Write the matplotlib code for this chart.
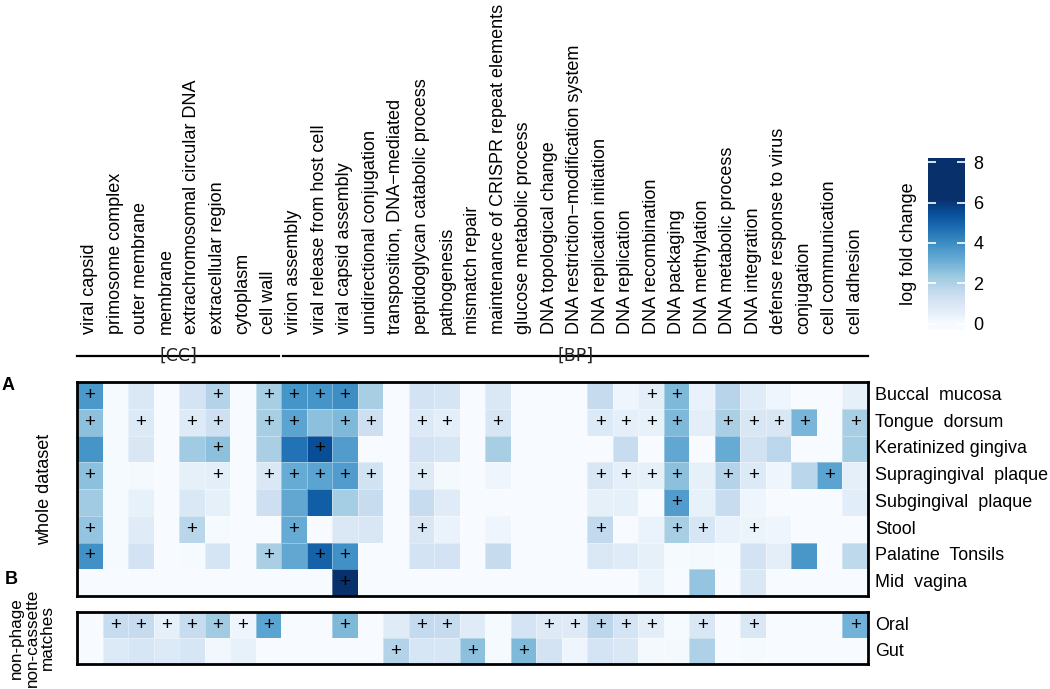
import numpy as np
import matplotlib
matplotlib.use("Agg")
import matplotlib.pyplot as plt
from matplotlib.colors import ListedColormap, Normalize
from matplotlib.cm import ScalarMappable
from matplotlib.transforms import blended_transform_factory
from matplotlib.lines import Line2D

plt.rcParams['font.family'] = ['Liberation Sans', 'DejaVu Sans']

# ---------------- data ----------------
terms = ["viral capsid", "primosome complex", "outer membrane", "membrane",
         "extrachromosomal circular DNA", "extracellular region", "cytoplasm", "cell wall",
         "virion assembly", "viral release from host cell", "viral capsid assembly",
         "unidirectional conjugation", "transposition, DNA\u2212mediated",
         "peptidoglycan catabolic process", "pathogenesis", "mismatch repair",
         "maintenance of CRISPR repeat elements", "glucose metabolic process",
         "DNA topological change", "DNA restriction\u2212modification system",
         "DNA replication initiation", "DNA replication", "DNA recombination",
         "DNA packaging", "DNA methylation", "DNA metabolic process", "DNA integration",
         "defense response to virus", "conjugation", "cell communication", "cell adhesion"]
n_cc = 8  # first 8 terms are [CC], remaining are [BP]

sites = ["Buccal  mucosa", "Tongue  dorsum", "Keratinized gingiva", "Supragingival  plaque",
         "Subgingival  plaque", "Stool", "Palatine  Tonsils", "Mid  vagina"]
groups = ["Oral", "Gut"]

buccal = [3.7, 0.05, 0.9, 0.03, 1.1, 1.9, 0.03, 2.15, 3.8, 3.8, 3.95, 2.15, 0, 1.15, 1.05, 0,
          0.9, 0, 0, 0, 1.55, 0.3, 0.65, 2.8, 0.45, 1.85, 0.75, 0.3, 0, 0, 0.55]
tongue = [2.6, 0.05, 0.85, 0.03, 0.8, 1.3, 0.03, 2.15, 3.4, 2.6, 2.8, 1.35, 0, 0.85, 0.65, 0,
          1.0, 0, 0, 0, 0.85, 0.6, 0.5, 2.8, 0.65, 2.1, 0.95, 0.95, 2.9, 0, 2.15]
keratinized = [3.8, 0.05, 0.95, 0.03, 2.3, 2.6, 0.03, 2.1, 4.6, 5.5, 3.6, 0, 0, 1.15, 1.0, 0,
               2.15, 0, 0, 0, 0, 1.5, 0, 3.3, 0, 3.2, 1.2, 1.75, 0, 0, 2.2]
supragingival = [2.6, 0.05, 0.1, 0.03, 0.55, 0.65, 0.03, 0.9, 3.2, 3.4, 3.6, 1.2, 0, 0.8, 0.1, 0,
                 0.3, 0, 0, 0, 0.95, 0.6, 0.55, 2.6, 0.55, 1.9, 0.85, 0.3, 1.8, 3.4, 0.6]
subgingival = [2.3, 0.05, 0.5, 0.03, 0.9, 0.55, 0.03, 1.35, 3.3, 5.1, 2.2, 1.5, 0, 1.5, 0.75, 0,
               0, 0, 0, 0, 0.55, 0.55, 0, 3.6, 0.5, 1.5, 0.3, 0, 0, 0, 0.7]
stool = [2.5, 0.05, 0.75, 0.03, 1.8, 0.05, 0.03, 0.02, 3.2, -0.25, 0.9, 0.95, 0, 0.95, 0.4, 0,
         0.3, 0, 0, 0, 1.65, 0, 0.4, 2.15, 1.0, 0.45, 0.35, 0.3, 0, 0, 0]
palatine = [3.9, 0.05, 1.15, 0.03, 0.05, 1.05, 0.03, 2.1, 3.3, 5.0, 3.9, 0, 0, 1.15, 1.15, 0,
            1.55, 0, 0, 0, 0.9, 0.75, 0.55, 0.05, 0.1, 0.05, 1.15, 0.65, 3.75, 0, 1.7]
mid_vagina = [0, 0, 0, 0, 0, 0, 0, 0, 0, 0, 8.1, 0, 0, 0, 0, 0,
              0, 0, 0, 0, 0, 0, 0.35, 0, 2.5, 0, 0.9, 0, 0, 0, 0]

oral = [0, 1.5, 1.55, 0.55, 1.5, 2.3, 0.3, 3.4, 0, 0, 2.8, 0, 0.75, 1.6, 1.55, 0.75,
        0.05, 1.1, 0.8, 0.8, 1.75, 1.1, 0.65, 0.05, 0.95, 0, 0.9, 0, 0, 0, 3.0]
gut = [0, 0.85, 1.0, 0.85, 1.0, 0.2, 0.5, 0, 0, 0, 0, 0, 1.9, 1.0, 1.0, 2.6,
       0.05, 2.8, 1.15, 0.3, 1.1, 0.9, 0.1, 0.1, 2.0, 0, 0.05, 0, 0, 0, 0]

# columns marked with "+"
sig_buccal = [0, 5, 7, 8, 9, 10, 22, 23]
sig_tongue = [0, 2, 4, 5, 7, 8, 10, 11, 13, 14, 16, 20, 21, 22, 23, 25, 26, 27, 28, 30]
sig_keratinized = [5, 9]
sig_supragingival = [0, 5, 7, 8, 9, 10, 11, 13, 20, 21, 22, 23, 25, 26, 29]
sig_subgingival = [23]
sig_stool = [0, 4, 8, 13, 20, 23, 24, 26]
sig_palatine = [0, 7, 9, 10]
sig_mid_vagina = [10]
sig_oral = [1, 2, 3, 4, 5, 6, 7, 10, 13, 14, 18, 19, 20, 21, 22, 24, 26, 30]
sig_gut = [12, 15, 17]

cbar_ticks = [0, 2, 4, 6, 8]
vmin, vmax = -0.3, 8.2

# ---------------- figure ----------------
W, H = 1050, 689
fig = plt.figure(figsize=(W / 100, H / 100), dpi=100)


def rect(x0, y0, x1, y1):
    return [x0 / W, 1 - y1 / H, (x1 - x0) / W, (y1 - y0) / H]


base = plt.get_cmap('Blues')
vals = np.linspace(vmin, vmax, 512)
cmap = ListedColormap(base(np.clip(vals / 6.2, 0, 1)))
norm = Normalize(vmin=vmin, vmax=vmax)

matA = np.array([buccal, tongue, keratinized, supragingival, subgingival, stool, palatine, mid_vagina])
sigA = [sig_buccal, sig_tongue, sig_keratinized, sig_supragingival, sig_subgingival,
        sig_stool, sig_palatine, sig_mid_vagina]
matB = np.array([oral, gut])
sigB = [sig_oral, sig_gut]

axA = fig.add_axes(rect(77, 382, 868, 596))
axB = fig.add_axes(rect(77, 612, 868, 664))

for ax, mat, sig, labels in [(axA, matA, sigA, sites), (axB, matB, sigB, groups)]:
    nr, nc = mat.shape
    ax.pcolormesh(np.arange(nc + 1), np.arange(nr + 1), mat, cmap=cmap, norm=norm,
                  edgecolors=(1, 1, 1, 0.35), linewidth=0.5)
    ax.set_xlim(0, nc)
    ax.set_ylim(nr, 0)
    ax.set_xticks([])
    ax.set_yticks([])
    for s in ax.spines.values():
        s.set_linewidth(2)
        s.set_color('black')
    for i, cols in enumerate(sig):
        for j in cols:
            ax.text(j + 0.5, i + 0.5, '+', ha='center', va='center', fontsize=13.5, color='black')
    tr = blended_transform_factory(ax.transAxes, ax.transData)
    for i, lab in enumerate(labels):
        ax.text(1.009, i + 0.5, lab, transform=tr, ha='left', va='center', fontsize=12.9)

# column labels
trx = blended_transform_factory(axA.transData, fig.transFigure)
for j, t in enumerate(terms):
    axA.text(j + 0.5, 1 - 334 / H, t, transform=trx, rotation=90, ha='center', va='bottom',
             fontsize=13, clip_on=False)

# group lines
yline = 1 - 356 / H
for x0, x1, lab in [(0.0, n_cc - 0.08, '[CC]'), (n_cc + 0.08, len(terms), '[BP]')]:
    axA.add_line(Line2D([x0, x1], [yline, yline], transform=trx, color='black', lw=1.6,
                        clip_on=False))
    axA.text((x0 + x1) / 2, yline, lab, transform=trx, ha='center', va='center', fontsize=12.5,
             family='DejaVu Sans', color='#222222', clip_on=False)

# left annotations
fig.text(8 / W, 1 - 386 / H, 'A', fontsize=13, fontweight='bold', ha='center', va='center')
fig.text(11 / W, 1 - 580 / H, 'B', fontsize=13, fontweight='bold', ha='center', va='center')
fig.text(45 / W, 1 - 489 / H, 'whole dataset', rotation=90, fontsize=13, ha='center', va='center')
fig.text(32 / W, 1 - 638 / H, 'non-phage\nnon-cassette\nmatches', rotation=90, fontsize=12.3,
         ha='center', va='center', multialignment='center', linespacing=1.05)

# colorbar
cax = fig.add_axes(rect(928, 158, 965, 330))
cb = fig.colorbar(ScalarMappable(norm=norm, cmap=cmap), cax=cax, ticks=cbar_ticks)
cb.outline.set_visible(False)
cax.tick_params(axis='y', direction='in', color='white', length=6, width=1.2,
                left=True, right=True, labelleft=False, labelright=True, labelsize=13, pad=6)
cax.yaxis.set_label_position('left')
cax.set_ylabel('log fold change', fontsize=13, labelpad=8)

fig.savefig('out.png', dpi=100)
